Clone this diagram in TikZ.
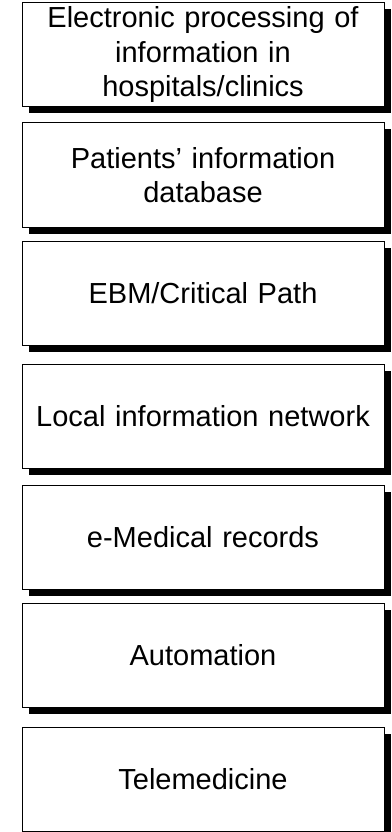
\documentclass[tikz,border=0pt]{standalone}
\usepackage{fontspec}
\setmainfont{Liberation Sans}
\usetikzlibrary{shadows}
\tikzset{
  stagebox/.style={
    draw=black, line width=1pt, fill=white,
    minimum width=362pt, minimum height=104pt, inner sep=0pt,
    align=center, text width=356pt,
    font=\fontsize{29}{34.5}\selectfont,
    drop shadow={shadow xshift=6.5pt, shadow yshift=-6.5pt, fill=black, opacity=1}
  }
}
\begin{document}
\begin{tikzpicture}[x=1pt,y=-1pt]
  \useasboundingbox (0,0) rectangle (391,832);
  \node[stagebox] (eproc)   at (203,55)  {Electronic processing of\\information in\\hospitals/clinics};
  \node[stagebox] (patdb)   at (203,175) {Patients’ information\\database};
  \node[stagebox] (ebm)     at (203,293) {EBM/Critical Path};
  \node[stagebox] (localnet) at (203,416) {Local information network};
  \node[stagebox] (emed)    at (203,537) {e-Medical records};
  \node[stagebox] (auto)    at (203,655) {Automation};
  \node[stagebox] (tele)    at (203,779) {Telemedicine};
\end{tikzpicture}
\end{document}
